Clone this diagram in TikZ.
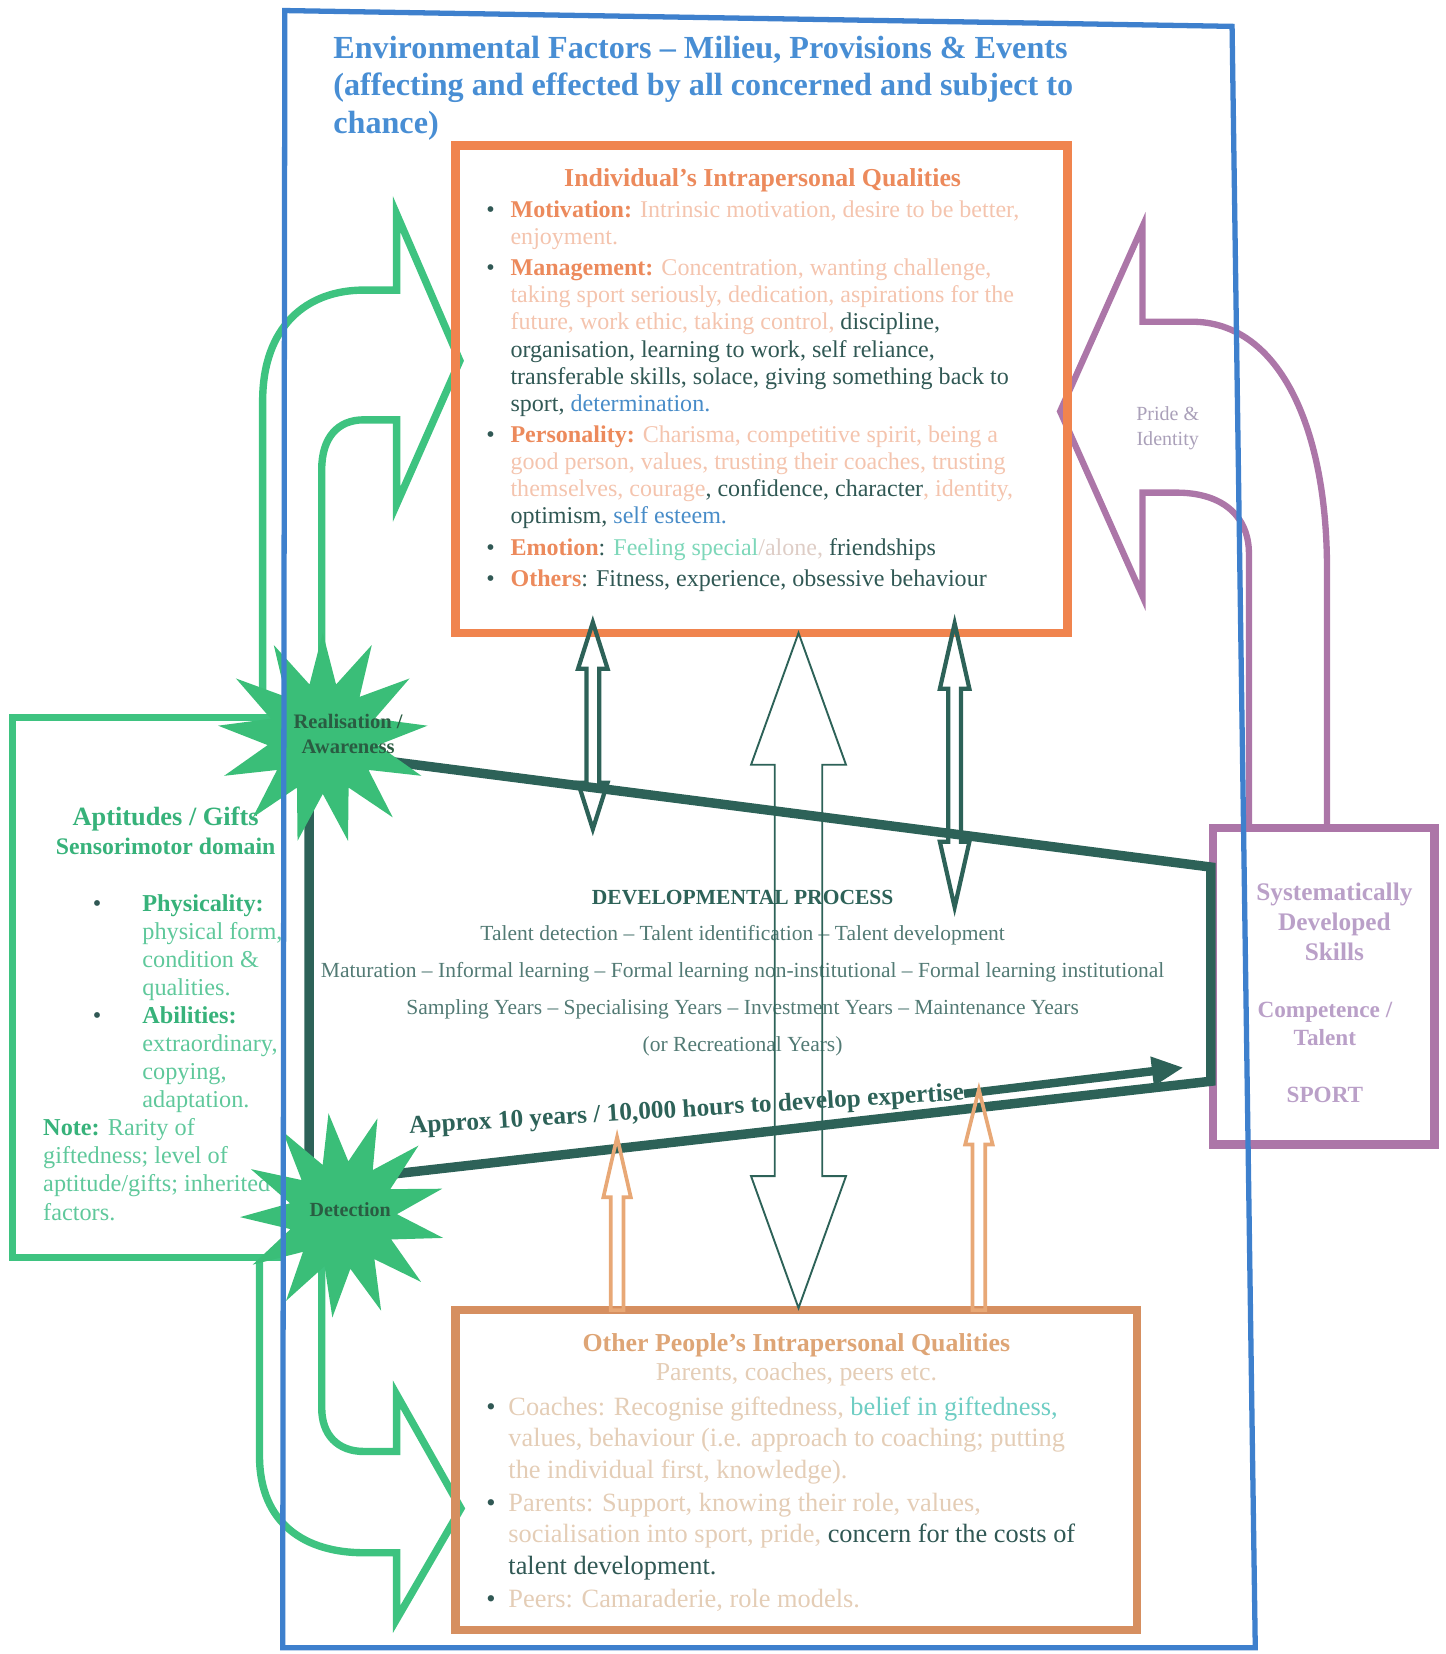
\documentclass[tikz,border=0pt]{standalone}
\usepackage{fontspec}
\setmainfont{Liberation Serif}
\usetikzlibrary{arrows.meta,shapes.geometric}

\definecolor{frameblue}{RGB}{62,128,205}
\definecolor{titleblue}{RGB}{72,142,212}
\definecolor{boxorange}{RGB}{240,132,78}
\definecolor{lblorange}{RGB}{236,138,92}
\definecolor{peach}{RGB}{244,196,174}
\definecolor{darkteal}{RGB}{48,88,84}
\definecolor{textblue}{RGB}{72,140,200}
\definecolor{mint}{RGB}{125,215,185}
\definecolor{greyrose}{RGB}{222,205,198}
\definecolor{giftgreen}{RGB}{62,195,128}
\definecolor{gifttext}{RGB}{95,200,155}
\definecolor{giftbold}{RGB}{55,178,122}
\definecolor{stargreen}{RGB}{58,190,120}
\definecolor{startext}{RGB}{42,92,66}
\definecolor{procteal}{RGB}{45,98,88}
\definecolor{proctext}{RGB}{82,122,116}
\definecolor{skillpurple}{RGB}{172,118,168}
\definecolor{skilltext}{RGB}{186,160,200}
\definecolor{pridetext}{RGB}{170,160,185}
\definecolor{tanbox}{RGB}{214,143,96}
\definecolor{tantitle}{RGB}{222,165,118}
\definecolor{tanlight}{RGB}{228,205,182}
\definecolor{tanarrow}{RGB}{232,168,118}
\definecolor{belief}{RGB}{110,205,195}

% bullets with hanging indent
\newcommand\bulA{\makebox[23pt][l]{\color{darkteal}\textbullet}}
\newcommand\indA{\hspace*{23pt}}
\newcommand\bulB{\makebox[21pt][l]{\color{darkteal}\textbullet}}
\newcommand\indB{\hspace*{21pt}}

% vertical block arrow with two heads: x, top tip, bottom tip, head length, head half width, shaft half width, style
\newcommand\twoheads[7]{%
  \draw[#7] (#1,#2) -- (#1+#5,#2+#4) -- (#1+#6,#2+#4) -- (#1+#6,#3-#4) -- (#1+#5,#3-#4)
    -- (#1,#3) -- (#1-#5,#3-#4) -- (#1-#6,#3-#4) -- (#1-#6,#2+#4) -- (#1-#5,#2+#4) -- cycle;}
% upward block arrow: x, tip, base, head length, head half width, shaft half width, style
\newcommand\onehead[7]{%
  \draw[#7] (#1,#2) -- (#1+#5,#2+#4) -- (#1+#6,#2+#4) -- (#1+#6,#3) -- (#1-#6,#3)
    -- (#1-#6,#2+#4) -- (#1-#5,#2+#4) -- cycle;}

\tikzset{
  txt/.style={inner sep=0pt, outer sep=0pt},
  block/.style={txt, anchor=north west, align=left},
  boxframe/.style={draw=#1, line width=8pt, anchor=north west, inner sep=0pt, outer sep=0pt},
  greenarrow/.style={draw=giftgreen, line width=7pt, line join=miter},
  purplearrow/.style={draw=skillpurple, line width=6pt, line join=miter},
  thinarrow/.style={draw=procteal, line width=1.8pt, line join=miter},
  narrowarrow/.style={draw=procteal, line width=4pt, line join=miter},
  tanup/.style={draw=tanarrow, line width=3.5pt, line join=miter},
  burst/.style={star, star points=13, star point ratio=1.9, fill=stargreen, inner sep=0pt},
  devline/.style={draw=procteal, line width=9pt, line join=miter},
}

\begin{document}
\begin{tikzpicture}[x=1pt,y=-1pt]
\useasboundingbox (0,0) rectangle (1370,1568);

% curved green arrows from the two bursts
\draw[greenarrow] (249,660) -- (249,380) .. controls (249,310) and (290,275) .. (345,275)
  -- (376,275) -- (376,203) -- (436,342) -- (376,478) -- (376,398) -- (345,398)
  .. controls (320,398) and (305,415) .. (305,445) -- (305,670);
\draw[greenarrow] (246,1192) -- (246,1380) .. controls (246,1445) and (290,1472) .. (345,1472)
  -- (376,1472) -- (376,1535) -- (437,1430) -- (376,1322) -- (376,1376) -- (345,1376)
  .. controls (320,1376) and (305,1360) .. (305,1335) -- (305,1200);

% curved purple arrow from the skills box
\draw[purplearrow] (1258,785) -- (1258,540) .. controls (1258,400) and (1210,305) .. (1130,305)
  -- (1083,305) -- (1083,215) -- (1005,390) -- (1083,565) -- (1083,467) -- (1115,467)
  .. controls (1160,467) and (1184,490) .. (1184,525) -- (1184,785);
\node[txt, align=center, text=pridetext, font=\fontsize{19}{24}\selectfont] (pride) at (1107,406) {Pride \&\\Identity};

% boxes
\node[boxframe=boxorange, minimum width=580, minimum height=462] (indbox) at (432,138) {};
\node[boxframe=tanbox, minimum width=646, minimum height=303] (othbox) at (432,1242) {};
\node[boxframe=skillpurple, minimum width=210, minimum height=300] (skillbox) at (1150,785) {};
\draw[draw=giftgreen, line width=7pt, line join=miter] (270,680) -- (12,680) -- (12,1192) -- (270,1192);

% title
\node[block, text=titleblue, font=\fontsize{30.5}{36}\selectfont\bfseries] (envtitle) at (316,32)
  {\rule{0pt}{23pt}Environmental Factors – Milieu, Provisions \& Events\\(affecting and effected by all concerned and subject to\\chance)};

% individual's qualities
\node[txt, anchor=base, text=lblorange, font=\fontsize{24.5}{28}\selectfont\bfseries] (indtitle) at (723,177)
  {Individual’s Intrapersonal Qualities};
\node[block, text=peach, font=\fontsize{22.8}{25.7}\selectfont] (indlist) at (461,189) {%
\rule{0pt}{17pt}\bulA{\color{lblorange}\bfseries Motivation:} Intrinsic motivation, desire to be better,\\
\indA enjoyment.\\[4pt]
\bulA{\color{lblorange}\bfseries Management:} Concentration, wanting challenge,\\
\indA taking sport seriously, dedication, aspirations for the\\
\indA future, work ethic, taking control, {\color{darkteal}discipline,}\\
\indA{\color{darkteal}organisation, learning to work, self reliance,}\\
\indA{\color{darkteal}transferable skills, solace, giving something back to}\\
\indA{\color{darkteal}sport,} {\color{textblue}determination.}\\[4pt]
\bulA{\color{lblorange}\bfseries Personality:} Charisma, competitive spirit, being a\\
\indA good person, values, trusting their coaches, trusting\\
\indA themselves, courage{\color{darkteal}, confidence, character}, identity,\\
\indA{\color{darkteal}optimism,} {\color{textblue}self esteem.}\\[4pt]
\bulA{\color{lblorange}\bfseries Emotion}{\color{darkteal}:} {\color{mint}Feeling special}{\color{greyrose}/alone,} {\color{darkteal}friendships}\\[4pt]
\bulA{\color{lblorange}\bfseries Others}{\color{darkteal}: Fitness, experience, obsessive behaviour}};

% other people's qualities
\node[txt, anchor=base, text=tantitle, font=\fontsize{24.5}{28}\selectfont\bfseries] (othtitle) at (755,1281)
  {Other People’s Intrapersonal Qualities};
\node[txt, anchor=base, text=tanlight, font=\fontsize{24.5}{28}\selectfont] (othsub) at (755,1309)
  {Parents, coaches, peers etc.};
\node[block, text=tanlight, font=\fontsize{25}{30}\selectfont] (othlist) at (461,1323) {%
\rule{0pt}{18.5pt}\bulB Coaches: Recognise giftedness, {\color{belief}belief in giftedness,}\\
\indB values, behaviour (i.e. approach to coaching; putting\\
\indB the individual first, knowledge).\\[1pt]
\bulB Parents: Support, knowing their role, values,\\
\indB socialisation into sport, pride, {\color{darkteal}concern for the costs of}\\
\indB{\color{darkteal}talent development.}\\[1pt]
\bulB Peers: Camaraderie, role models.};

% aptitudes
\node[txt, anchor=base, text=giftbold, font=\fontsize{25}{28}\selectfont\bfseries] (aptitle) at (157,782.5) {Aptitudes / Gifts};
\node[txt, anchor=base, text=giftbold, font=\fontsize{22.5}{26}\selectfont\bfseries] (apsub) at (157,810) {Sensorimotor domain};
\node[block, text=gifttext, font=\fontsize{23}{26.6}\selectfont] (giftlist) at (41,847) {%
\rule{0pt}{17pt}\hspace*{47pt}\makebox[47pt][l]{\color{darkteal}\textbullet}{\color{giftbold}\bfseries Physicality:}\\
\hspace*{94pt}physical form,\\
\hspace*{94pt}condition \&\\
\hspace*{94pt}qualities.\\
\hspace*{47pt}\makebox[47pt][l]{\color{darkteal}\textbullet}{\color{giftbold}\bfseries Abilities:}\\
\hspace*{94pt}extraordinary,\\
\hspace*{94pt}copying,\\
\hspace*{94pt}adaptation.\\
{\color{giftbold}\bfseries Note:} Rarity of\\
giftedness; level of\\
aptitude/gifts; inherited\\
factors.};

% systematically developed skills
\node[txt, anchor=north, align=center, text=skilltext, font=\fontsize{24}{28.5}\selectfont\bfseries] (skills) at (1265,836)
  {\rule{0pt}{18pt}Systematically\\Developed\\Skills};
\node[txt, anchor=north, align=center, text=skilltext, font=\fontsize{22}{26.5}\selectfont\bfseries] (talent) at (1256,948)
  {\rule{0pt}{16.5pt}Competence /\\Talent};
\node[txt, anchor=base, text=skilltext, font=\fontsize{22}{26}\selectfont\bfseries] (sport) at (1256,1045) {SPORT};

% developmental process
\node[txt, anchor=north, align=center, text=proctext, font=\fontsize{20.4}{35}\selectfont] (devproc) at (704,842) {%
\rule{0pt}{15pt}{\bfseries\color{procteal}DEVELOPMENTAL PROCESS}\\
Talent detection – Talent identification – Talent development\\
Maturation – Informal learning – Formal learning non-institutional – Formal learning institutional\\
Sampling Years – Specialising Years – Investment Years – Maintenance Years\\
(or Recreational Years)};

% two-way links between the qualities and the process
\twoheads{757}{600}{1240}{125}{45}{22.5}{thinarrow}
\twoheads{562}{590}{786}{44}{14}{6}{narrowarrow}
\twoheads{905}{591}{860}{62}{14}{6}{narrowarrow}

% developmental frame
\coordinate (tl) at (293,712);
\coordinate (tr) at (1148,822);
\coordinate (br) at (1148,1025);
\coordinate (bl) at (293,1122);
\draw[devline] (tl) -- (tr) -- (br) -- (bl) -- cycle;

\node[txt, rotate=3.5, text=procteal, font=\fontsize{24}{28}\selectfont\bfseries] (approx) at (651,1053)
  {Approx 10 years / 10,000 hours to develop expertise};
\coordinate (atip) at (1122,1012);
\draw[procteal, line width=8pt, -{Triangle[length=30pt,width=26pt]}] (approx.east) -- (atip);

% support from other people
\onehead{585}{1078}{1242}{57}{13}{6}{tanup}
\onehead{928}{1033}{1242}{52}{13}{6}{tanup}

% bursts
\node[burst, minimum size=200pt] (rstar) at (306,700) {};
\node[burst, minimum size=195pt, shape border rotate=8] (dstar) at (325,1152) {};

% environment frame
\draw[draw=frameblue, line width=5pt, line join=miter] (270,10) -- (1168,25) -- (1190,1562) -- (268,1562) -- cycle;

\node[txt, align=center, text=startext, font=\fontsize{19.5}{24}\selectfont\bfseries] (rtext) at (330,696) {Realisation /\\Awareness};
\node[txt, text=startext, font=\fontsize{19}{24}\selectfont\bfseries] (dtext) at (332,1147) {Detection};
\end{tikzpicture}
\end{document}
